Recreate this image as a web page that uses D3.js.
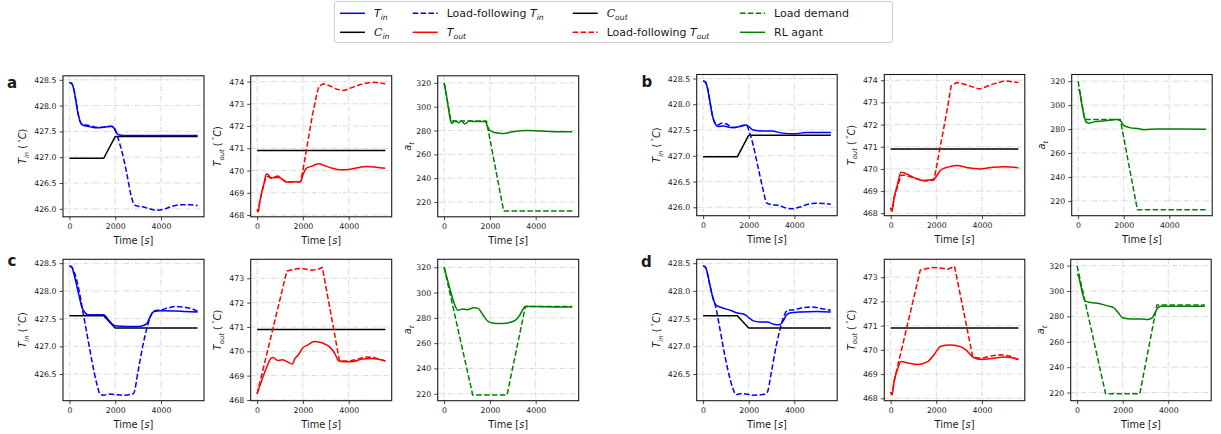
<!DOCTYPE html>
<html><head><meta charset="utf-8">
<script src="https://cdn.jsdelivr.net/npm/d3@7"></script>
<style>
body{margin:0;background:#fff}
text{font-family:"DejaVu Sans",sans-serif;fill:#1a1a1a}
</style>
</head><body>
<svg id="chart" width="1221" height="434"></svg>
<script>
// ---------------- DATA ----------------
const timeTicks = [0, 2000, 4000];
const tinTicksTop = [426.0, 426.5, 427.0, 427.5, 428.0, 428.5];
const tinTicksBottom = [426.5, 427.0, 427.5, 428.0, 428.5];
const toutTicksTop = [468, 469, 470, 471, 472, 473, 474];
const toutTicksBottom = [468, 469, 470, 471, 472, 473];
const atTicks = [220, 240, 260, 280, 300, 320];
const panelLetters = ["a", "b", "c", "d"];
const legendLabels = ["T_in", "C_in", "Load-following T_in", "T_out", "C_out", "Load-following T_out", "Load demand", "RL agant"];

// panel a
const aTinRL = [[0,428.45],[100,428.43],[200,428.3],[300,428.05],[400,427.8],[500,427.66],[600,427.62],[800,427.6],[1000,427.58],[1200,427.57],[1500,427.58],[1800,427.6],[1900,427.59],[2000,427.52],[2100,427.45],[2200,427.43],[2500,427.42],[5600,427.42]];
const aTinLF = [[0,428.45],[100,428.43],[200,428.3],[300,428.05],[400,427.8],[500,427.66],[600,427.63],[800,427.62],[1000,427.6],[1200,427.58],[1500,427.58],[1800,427.6],[1950,427.58],[2100,427.4],[2300,427.1],[2500,426.7],[2700,426.25],[2850,426.07],[3000,426.05],[3200,426.04],[3500,426.0],[3800,425.97],[4100,425.99],[4500,426.05],[4900,426.08],[5300,426.08],[5600,426.06]];
const aCin = [[0,426.98],[1500,426.98],[2000,427.4],[5600,427.4]];
const aToutRL = [[0,468.25],[50,468.15],[100,468.5],[200,469.0],[300,469.4],[400,469.85],[500,469.8],[600,469.65],[750,469.7],[900,469.75],[1100,469.6],[1300,469.48],[1600,469.5],[1900,469.5],[2000,469.8],[2150,470.1],[2400,470.2],[2700,470.3],[3000,470.2],[3300,470.1],[3600,470.03],[4000,470.05],[4500,470.15],[4800,470.18],[5200,470.15],[5600,470.1]];
const aToutLF = [[0,468.25],[50,468.15],[100,468.5],[200,469.0],[300,469.4],[400,469.75],[500,469.72],[700,469.65],[900,469.7],[1100,469.6],[1300,469.48],[1600,469.5],[1900,469.5],[2000,470.0],[2200,471.2],[2400,472.4],[2600,473.4],[2700,473.8],[2900,473.9],[3200,473.8],[3500,473.65],[3800,473.6],[4200,473.75],[4600,473.9],[5000,473.97],[5300,473.95],[5600,473.9]];
const aCout = [[0,470.9],[5600,470.9]];
const aAtRL = [[0,320],[100,310],[200,297],[300,287],[350,286],[450,288],[550,287.5],[650,286.5],[750,288],[900,285.5],[1100,288],[1300,287.5],[1600,287.5],[1800,287.5],[1900,283],[2000,280],[2200,278.3],[2600,277.5],[3000,279],[3600,280],[4200,279.5],[4800,279],[5600,279]];
const aAtLF = [[0,320],[300,288],[1850,288],[2600,212.5],[5600,212.5]];

// panel b
const bTinRL = [[0,428.45],[100,428.43],[200,428.3],[300,428.05],[400,427.8],[500,427.65],[650,427.57],[900,427.58],[1200,427.55],[1400,427.55],[1700,427.58],[1900,427.6],[2050,427.55],[2200,427.5],[2600,427.48],[3000,427.48],[3500,427.44],[4000,427.43],[4500,427.45],[5600,427.45]];
const bTinLF = [[0,428.45],[100,428.43],[200,428.3],[300,428.05],[400,427.8],[500,427.66],[650,427.6],[800,427.63],[1000,427.62],[1300,427.55],[1600,427.57],[1900,427.6],[2000,427.5],[2200,427.2],[2400,426.8],[2600,426.4],[2800,426.08],[3000,426.05],[3300,426.04],[3600,425.99],[3900,425.97],[4200,426.0],[4600,426.06],[5000,426.08],[5600,426.06]];
const bCin = [[0,426.98],[1500,426.98],[2000,427.4],[5600,427.4]];
const bToutRL = [[0,468.25],[60,468.1],[150,468.7],[300,469.3],[450,469.85],[600,469.82],[1000,469.62],[1400,469.48],[1700,469.5],[1900,469.55],[2200,469.95],[2500,470.08],[2900,470.15],[3400,470.05],[3900,470.0],[4500,470.08],[5000,470.1],[5600,470.05]];
const bToutLF = [[0,468.25],[60,468.1],[150,468.7],[300,469.2],[450,469.72],[600,469.72],[1000,469.6],[1500,469.45],[1900,469.5],[2100,470.6],[2300,471.7],[2500,472.8],[2650,473.75],[2900,473.9],[3300,473.8],[3900,473.6],[4400,473.8],[5000,473.98],[5600,473.9]];
const bCout = [[0,470.9],[5600,470.9]];
const bAtRL = [[0,313],[60,312],[150,302],[250,292],[350,286],[450,285],[700,286],[1200,287],[1700,288],[1850,287],[2000,283],[2300,281],[2600,280.5],[2900,279.5],[3500,280],[4000,280],[5600,279.8]];
const bAtLF = [[0,320],[290,288],[1850,288],[2600,212.5],[5600,212.5]];

// panel c
const cTinRL = [[0,428.45],[100,428.43],[200,428.3],[400,427.95],[550,427.7],[700,427.6],[800,427.57],[1000,427.57],[1500,427.57],[1700,427.48],[1900,427.39],[2000,427.37],[2500,427.36],[3000,427.36],[3200,427.37],[3400,427.42],[3550,427.55],[3700,427.63],[4000,427.64],[5000,427.63],[5600,427.62]];
const cTinLF = [[0,428.45],[100,428.43],[200,428.35],[400,428.05],[600,427.6],[800,427.15],[1000,426.7],[1200,426.32],[1350,426.13],[1500,426.12],[1700,426.14],[2000,426.13],[2400,426.12],[2800,426.15],[3000,426.55],[3200,427.0],[3400,427.35],[3550,427.55],[3700,427.64],[4000,427.66],[4300,427.69],[4700,427.72],[5100,427.7],[5400,427.67],[5600,427.63]];
const cCin = [[0,427.55],[1500,427.55],[2000,427.33],[5600,427.33]];
const cToutRL = [[0,468.25],[200,468.8],[400,469.3],[600,469.7],[700,469.75],[900,469.62],[1100,469.65],[1300,469.58],[1550,469.48],[1650,469.7],[1800,469.85],[2000,470.15],[2200,470.25],[2500,470.4],[2700,470.38],[3000,470.28],[3200,470.15],[3400,469.9],[3550,469.62],[3800,469.57],[4200,469.58],[4600,469.68],[5000,469.7],[5300,469.67],[5600,469.6]];
const cToutLF = [[0,468.25],[1300,473.3],[1800,473.4],[2100,473.38],[2400,473.33],[2700,473.38],[2850,473.45],[3600,469.6],[4000,469.6],[4300,469.65],[4700,469.77],[5100,469.75],[5600,469.6]];
const cCout = [[0,470.9],[5600,470.9]];
const cAtRL = [[0,320],[150,310],[300,300],[450,291],[600,286],[700,286.5],[800,287],[1000,286.5],[1300,288],[1500,287.5],[1600,285],[1750,281],[1900,277.5],[2100,276],[2400,275.5],[2700,275.8],[2900,276.5],[3100,278],[3300,282],[3450,287],[3550,289],[4000,289],[5000,288.6],[5600,288.5]];
const cAtLF = [[0,320],[1250,219],[2750,219],[3550,289],[5600,289]];

// panel d
const dTinRL = [[0,428.45],[100,428.43],[200,428.3],[300,428.1],[450,427.85],[550,427.75],[800,427.7],[1200,427.65],[1500,427.6],[1800,427.58],[2000,427.52],[2200,427.46],[2500,427.44],[2800,427.44],[3100,427.4],[3350,427.39],[3500,427.45],[3650,427.56],[3800,427.6],[4300,427.62],[5000,427.63],[5600,427.62]];
const dTinLF = [[0,428.45],[100,428.43],[200,428.3],[300,428.1],[450,427.85],[550,427.72],[700,427.4],[900,426.95],[1100,426.55],[1300,426.25],[1450,426.13],[1700,426.15],[2200,426.12],[2600,426.13],[2800,426.16],[3000,426.55],[3200,427.0],[3400,427.35],[3550,427.55],[3700,427.65],[4000,427.66],[4400,427.7],[4800,427.71],[5200,427.68],[5600,427.65]];
const dCin = [[0,427.55],[1500,427.55],[2000,427.33],[5600,427.33]];
const dToutRL = [[0,468.25],[60,468.15],[150,468.7],[300,469.2],[450,469.52],[800,469.45],[1200,469.4],[1600,469.5],[1900,469.8],[2200,470.15],[2600,470.2],[3000,470.15],[3300,470.0],[3450,469.85],[3600,469.7],[4000,469.6],[4500,469.65],[5000,469.7],[5600,469.6]];
const dToutLF = [[0,468.25],[60,468.15],[150,468.7],[1300,473.3],[1800,473.4],[2200,473.38],[2500,473.33],[2800,473.45],[3600,469.7],[4000,469.65],[4400,469.75],[4800,469.8],[5200,469.75],[5600,469.6]];
const dCout = [[0,470.9],[5600,470.9]];
const dAtRL = [[0,313],[60,312],[150,305],[250,297],[350,292],[600,291],[1000,290],[1400,288],[1600,287],[1800,283],[2000,279],[2400,278],[2800,278],[3100,277.5],[3300,279],[3450,284],[3550,287],[3700,288],[5600,288]];
const dAtLF = [[0,320],[1250,219],[2750,219],[3500,289],[5600,289]];

// ---------------- LAYOUT / STYLE ----------------
const xDomain = [-280, 5880];
const BLUE = "#0000ff", RED = "#ff0000", GREEN = "#008000", BLACK = "#000000";
const DASH = "5.5,2.4";
const LW = 1.5;

const groups = [
  {letter: panelLetters[0], lp: [7, 87.5], lefts: [63, 250.7, 437.7], top: 75.8, w: 141, h: 141,
   yd: [[425.845, 428.578], [467.92, 474.26], [207.6, 325.9]], tinTicks: tinTicksTop, toutTicks: toutTicksTop,
   tin: [aTinRL, aTinLF, aCin], tout: [aToutRL, aToutLF, aCout], at: [aAtRL, aAtLF]},
  {letter: panelLetters[1], lp: [641.5, 86.7], lefts: [696.7, 884.3, 1071.7], top: 74.5, w: 140.5, h: 141.2,
   yd: [[425.837, 428.578], [467.89, 474.26], [207.6, 325.6]], tinTicks: tinTicksTop, toutTicks: toutTicksTop,
   tin: [bTinRL, bTinLF, bCin], tout: [bToutRL, bToutLF, bCout], at: [bAtRL, bAtLF]},
  {letter: panelLetters[2], lp: [7.5, 265.7], lefts: [63, 250.7, 437.7], top: 259.3, w: 141, h: 141.4,
   yd: [[426.02, 428.57], [467.97, 473.78], [214.5, 326.3]], tinTicks: tinTicksBottom, toutTicks: toutTicksBottom,
   tin: [cTinRL, cTinLF, cCin], tout: [cToutRL, cToutLF, cCout], at: [cAtRL, cAtLF]},
  {letter: panelLetters[3], lp: [641, 266.6], lefts: [696.7, 884.3, 1070.7], top: 259.3, w: 140.5, h: 141.4,
   yd: [[426.02, 428.57], [467.9, 473.74], [213.6, 325.0]], tinTicks: tinTicksBottom, toutTicks: toutTicksBottom,
   tin: [dTinRL, dTinLF, dCin], tout: [dToutRL, dToutLF, dCout], at: [dAtRL, dAtLF]}
];

const svg = d3.select("#chart");
svg.append("rect").attr("width", 1221).attr("height", 434).attr("fill", "#fff");

// helper for math-like text: parts = [{t, it, sub, sup, serif}]
function richText(sel, parts, size) {
  let shift = 0;
  parts.forEach(p => {
    const ts = sel.append("tspan").text(p.t);
    let target = 0;
    if (p.sub) target = size * 0.28;
    if (p.sup) target = -size * 0.38;
    ts.attr("dy", (target - shift).toFixed(2));
    shift = target;
    if (p.sub || p.sup) ts.attr("font-size", (size * 0.7).toFixed(2));
    if (p.it) ts.attr("font-style", "italic");
    if (p.serif) ts.attr("font-family", "DejaVu Serif");
  });
}

const labelParts = {
  tin: [{t: "T", it: true}, {t: "in", it: true, sub: true}, {t: " ("}, {t: " \u00B0", sup: true}, {t: "C", it: true}, {t: ")"}],
  tout: [{t: "T", it: true}, {t: "out", it: true, sub: true}, {t: " ("}, {t: " \u00B0", sup: true}, {t: "C", it: true}, {t: ")"}],
  at: [{t: "a", it: true}, {t: "t", it: true, sub: true}]
};
const labelOffsets = {tin: 40, tout: 33, at: 30};

function drawPanel(left, top, w, h, ydom, yticks, fmt, series, labelKey) {
  const g = svg.append("g").attr("transform", `translate(${left},${top})`);
  const x = d3.scaleLinear().domain(xDomain).range([0, w]);
  const y = d3.scaleLinear().domain(ydom).range([h, 0]);

  // grid
  const grid = g.append("g").attr("stroke", "#cfcfcf").attr("stroke-width", 0.8).attr("stroke-dasharray", "5,2,1.2,2");
  timeTicks.forEach(t => grid.append("line").attr("x1", x(t)).attr("x2", x(t)).attr("y1", 0).attr("y2", h));
  yticks.forEach(v => grid.append("line").attr("x1", 0).attr("x2", w).attr("y1", y(v)).attr("y2", y(v)));

  // series
  series.forEach(s => {
    const line = d3.line().x(d => x(d[0])).y(d => y(d[1])).curve(s.curve);
    g.append("path").datum(s.data).attr("d", line).attr("fill", "none")
      .attr("stroke", s.color).attr("stroke-width", LW)
      .attr("stroke-dasharray", s.dash ? DASH : null)
      .attr("stroke-linejoin", "round");
  });

  // axes
  const xa = g.append("g").attr("transform", `translate(0,${h})`)
    .call(d3.axisBottom(x).tickValues(timeTicks).tickSize(3.5).tickPadding(3).tickFormat(d3.format("d")));
  const ya = g.append("g")
    .call(d3.axisLeft(y).tickValues(yticks).tickSize(3.5).tickPadding(3).tickFormat(fmt));
  [xa, ya].forEach(a => {
    a.select(".domain").remove();
    a.selectAll("text").attr("font-size", 7.8).attr("fill", "#1a1a1a").attr("font-family", "DejaVu Sans");
    a.selectAll("line").attr("stroke", "#1a1a1a").attr("stroke-width", 0.8);
  });

  // frame
  g.append("rect").attr("width", w).attr("height", h).attr("fill", "none")
    .attr("stroke", "#1a1a1a").attr("stroke-width", 1.1);

  // x label
  const xl = g.append("text").attr("x", w / 2).attr("y", h + 27).attr("text-anchor", "middle").attr("font-size", 9.8);
  richText(xl, [{t: "Time ["}, {t: "s", it: true}, {t: "]"}], 9.8);

  // y label
  const yl = g.append("text")
    .attr("transform", `translate(${-labelOffsets[labelKey] + 3.3},${h / 2}) rotate(-90)`)
    .attr("text-anchor", "middle").attr("font-size", 9.8);
  richText(yl, labelParts[labelKey], 9.8);
}

const fmt1 = d3.format(".1f"), fmt0 = d3.format("d");
const curveS = d3.curveMonotoneX, curveL = d3.curveLinear;

groups.forEach(gr => {
  svg.append("text").attr("x", gr.lp[0]).attr("y", gr.lp[1]).attr("font-size", 15)
    .attr("font-weight", "bold").attr("fill", "#000").text(gr.letter);
  drawPanel(gr.lefts[0], gr.top, gr.w, gr.h, gr.yd[0], gr.tinTicks, fmt1, [
    {data: gr.tin[2], color: BLACK, dash: false, curve: curveL},
    {data: gr.tin[1], color: BLUE, dash: true, curve: curveS},
    {data: gr.tin[0], color: BLUE, dash: false, curve: curveS}
  ], "tin");
  drawPanel(gr.lefts[1], gr.top, gr.w, gr.h, gr.yd[1], gr.toutTicks, fmt0, [
    {data: gr.tout[2], color: BLACK, dash: false, curve: curveL},
    {data: gr.tout[1], color: RED, dash: true, curve: curveL},
    {data: gr.tout[0], color: RED, dash: false, curve: curveS}
  ], "tout");
  drawPanel(gr.lefts[2], gr.top, gr.w, gr.h, gr.yd[2], atTicks, fmt0, [
    {data: gr.at[1], color: GREEN, dash: true, curve: curveL},
    {data: gr.at[0], color: GREEN, dash: false, curve: curveS}
  ], "at");
});

// ---------------- LEGEND ----------------
const leg = svg.append("g");
leg.append("rect").attr("x", 334.5).attr("y", 1.5).attr("width", 558).attr("height", 41).attr("rx", 2.5)
  .attr("fill", "#fff").attr("stroke", "#cccccc").attr("stroke-width", 1);
const legColX = [340, 412.7, 572.7, 740];
const legRowY = [13.3, 32.3];
const legendItems = [
  {col: 0, row: 0, color: BLUE, dash: false, parts: [{t: "T", it: true}, {t: "in", it: true, sub: true}]},
  {col: 0, row: 1, color: BLACK, dash: false, parts: [{t: "C", it: true, serif: true}, {t: "in", it: true, sub: true}]},
  {col: 1, row: 0, color: BLUE, dash: true, parts: [{t: "Load-following "}, {t: "T", it: true}, {t: "in", it: true, sub: true}]},
  {col: 1, row: 1, color: RED, dash: false, parts: [{t: "T", it: true}, {t: "out", it: true, sub: true}]},
  {col: 2, row: 0, color: BLACK, dash: false, parts: [{t: "C", it: true, serif: true}, {t: "out", it: true, sub: true}]},
  {col: 2, row: 1, color: RED, dash: true, parts: [{t: "Load-following "}, {t: "T", it: true}, {t: "out", it: true, sub: true}]},
  {col: 3, row: 0, color: GREEN, dash: true, parts: [{t: legendLabels[6]}]},
  {col: 3, row: 1, color: GREEN, dash: false, parts: [{t: legendLabels[7]}]}
];
legendItems.forEach(it => {
  const lx = legColX[it.col], ly = legRowY[it.row];
  leg.append("line").attr("x1", lx).attr("x2", lx + 25).attr("y1", ly).attr("y2", ly)
    .attr("stroke", it.color).attr("stroke-width", LW).attr("stroke-dasharray", it.dash ? DASH : null);
  const t = leg.append("text").attr("x", lx + 34).attr("y", ly + 4).attr("font-size", 11);
  richText(t, it.parts, 11);
});
</script>
</body></html>
